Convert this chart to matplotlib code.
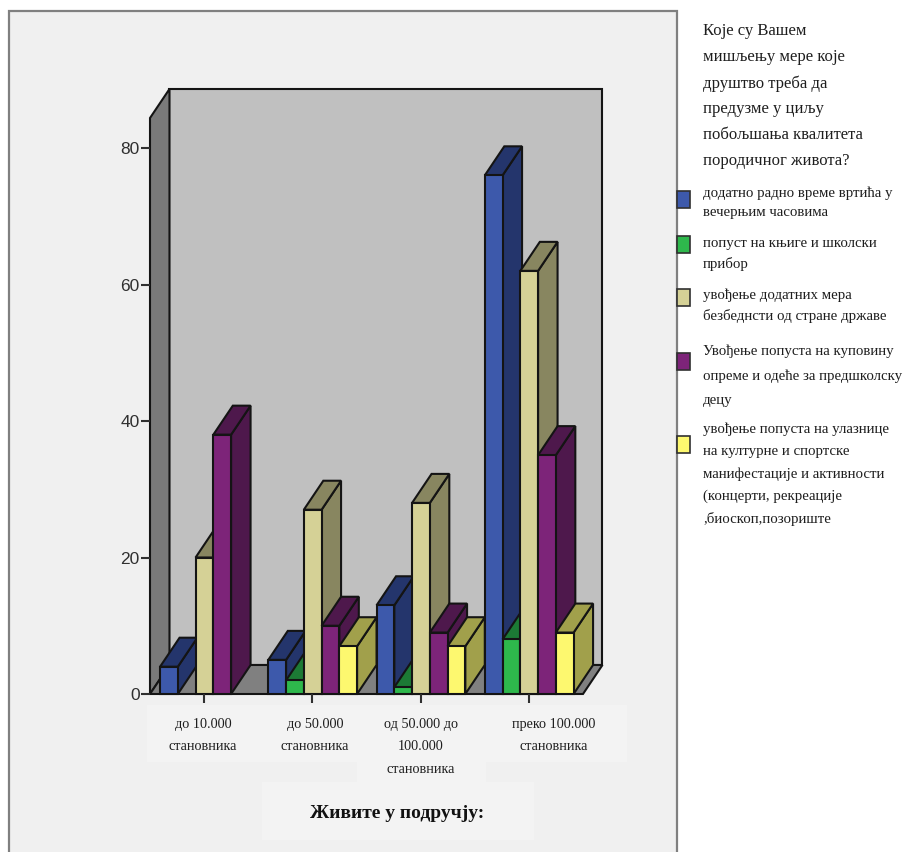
import matplotlib

matplotlib.use("Agg")

import matplotlib.pyplot as plt
from matplotlib.patches import Polygon, Rectangle

# ----------------------------------------------------------
# Data
# ----------------------------------------------------------

categories = [
    "до 10.000\nстановника",
    "до 50.000\nстановника",
    "од 50.000 до\n100.000\nстановника",
    "преко 100.000\nстановника",
]

blue_values = [4, 5, 13, 76]
green_values = [0, 2, 1, 8]
khaki_values = [20, 27, 28, 62]
purple_values = [38, 10, 9, 35]
yellow_values = [0, 7, 7, 9]

y_ticks = [0, 20, 40, 60, 80]

legend_title = (
    "Које су Вашем\nмишљењу мере које\nдруштво треба да\n"
    "предузме у циљу\nпобољшања квалитета\nпородичног живота?"
)

legend_labels = [
    "додатно радно време вртића у\nвечерњим часовима",
    "попуст на књиге и школски\nприбор",
    "увођење додатних мера\nбезбеднсти од стране државе",
    "Увођење попуста на куповину\nопреме и одеће за предшколску\nдецу",
    "увођење попуста на улазнице\nна културне и спортске\nманифестације и активности\n"
    "(концерти, рекреације\n,биоскоп,позориште",
]

x_title = "Живите у подручју:"

# ----------------------------------------------------------
# Styles
# ----------------------------------------------------------

series = [
    (blue_values, "#3d59ab", "#24356c"),
    (green_values, "#2eb84c", "#1c7a35"),
    (khaki_values, "#d5d196", "#888660"),
    (purple_values, "#7d2479", "#4e184c"),
    (yellow_values, "#fdf86f", "#a1a04b"),
]

edge = "#141414"
serif = "Liberation Serif"

bar_width = 0.164
depth_x = 0.18
depth_y = 4.25
y_top = 84.4

WIDTH, HEIGHT = 905, 852

fig = plt.figure(figsize=(WIDTH / 100, HEIGHT / 100), dpi=100, facecolor="white")

# background layer in picture pixels, for the frame and the texts
bg = fig.add_axes([0, 0, 1, 1])
bg.set_xlim(0, WIDTH)
bg.set_ylim(HEIGHT, 0)
bg.axis("off")

bg.add_patch(Rectangle((9, 11), 668, 860, facecolor="#f0f0f0", edgecolor="#808080", linewidth=1.6))

for box in [(147, 705, 480, 57), (357, 762, 129, 20), (262, 782, 272, 58)]:
    bg.add_patch(Rectangle(box[:2], box[2], box[3], facecolor="#f3f3f3", edgecolor="none"))

# ----------------------------------------------------------
# Chart
# ----------------------------------------------------------

ax = fig.add_axes([150 / WIDTH, 1 - 694 / HEIGHT, 433 / WIDTH, 576 / HEIGHT])
ax.patch.set_visible(False)
ax.set_xlim(-0.5, 3.5)
ax.set_ylim(0, y_top)

for spine in ax.spines.values():
    spine.set_visible(False)


def add_face(points, color):
    ax.add_patch(
        Polygon(
            points,
            closed=True,
            facecolor=color,
            edgecolor=edge,
            linewidth=1.5,
            joinstyle="miter",
            clip_on=False,
        )
    )


def add_bar(left, value, front_color, side_color):
    right = left + bar_width

    add_face(
        [(right, 0), (right + depth_x, depth_y), (right + depth_x, value + depth_y), (right, value)],
        side_color,
    )
    add_face(
        [(left, value), (left + depth_x, value + depth_y), (right + depth_x, value + depth_y), (right, value)],
        side_color,
    )
    add_face([(left, 0), (right, 0), (right, value), (left, value)], front_color)


# walls and floor
add_face(
    [(-0.5 + depth_x, depth_y), (3.5 + depth_x, depth_y), (3.5 + depth_x, y_top + depth_y), (-0.5 + depth_x, y_top + depth_y)],
    "#c0c0c0",
)
add_face(
    [(-0.5, 0), (-0.5 + depth_x, depth_y), (-0.5 + depth_x, y_top + depth_y), (-0.5, y_top)],
    "#7a7a7a",
)
add_face(
    [(-0.5, 0), (3.5, 0), (3.5 + depth_x, depth_y), (-0.5 + depth_x, depth_y)],
    "#808080",
)

# left to right, so every bar hides the side of the one before it
for group in range(len(categories)):
    for position, (values, front_color, side_color) in enumerate(series):
        if values[group] > 0:
            left = group + (position - 2.5) * bar_width + 0.003
            add_bar(left, values[group], front_color, side_color)

ax.set_xticks(range(len(categories)))
ax.set_xticklabels([])
ax.set_yticks(y_ticks)
ax.tick_params(axis="both", length=6.5, width=1.5, color="#303030")
ax.tick_params(axis="y", labelsize=12.5, labelcolor="#303030", pad=1)

for label in ax.get_yticklabels():
    label.set_family("Liberation Sans")

# ----------------------------------------------------------
# Texts
# ----------------------------------------------------------

label_centers = [203, 315, 421, 554]

for center, category in zip(label_centers, categories):
    bg.text(
        center,
        718,
        category,
        family=serif,
        fontsize=10.3,
        color="#1e1e1e",
        ha="center",
        va="top",
        linespacing=1.95,
    )

bg.text(397, 813, x_title, family=serif, fontsize=14, fontweight="bold", color="#111111", ha="center", va="center")

bg.text(703, 23, legend_title, family=serif, fontsize=12, color="#1e1e1e", ha="left", va="top", linespacing=1.82)

# legend swatch tops, text tops and line spacing, in picture pixels
swatch_tops = [191, 236, 289, 353, 436]
label_tops = [186, 237, 288, 345, 423]
label_spacing = [1.65, 1.6, 1.65, 2.05, 1.86]

for top, text_top, spacing, label, (_, front_color, _) in zip(
    swatch_tops, label_tops, label_spacing, legend_labels, series
):
    bg.add_patch(Rectangle((677, top), 13, 17, facecolor=front_color, edgecolor="#303030", linewidth=1.2))
    bg.text(703, text_top, label, family=serif, fontsize=10.7, color="#1e1e1e", ha="left", va="top", linespacing=spacing)

fig.savefig("out.png", dpi=100)
plt.close(fig)
